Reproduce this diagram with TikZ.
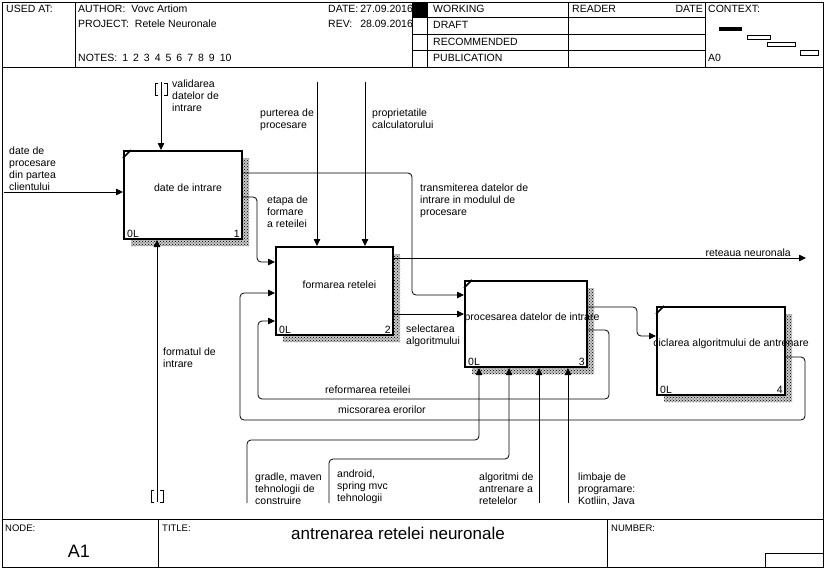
\documentclass[tikz,border=0pt]{standalone}
\usepackage{fontspec}
\setmainfont{Liberation Sans}
\usetikzlibrary{arrows.meta,patterns}
\begin{document}
\begin{tikzpicture}[x=1pt,y=-1pt,
  txt/.style={font=\fontsize{10.5}{12}\selectfont, inner sep=0pt, align=left, anchor=north west},
  hdr/.style={font=\fontsize{10.5}{12}\selectfont, inner sep=0pt, anchor=west},
  blbl/.style={font=\fontsize{10.5}{12}\selectfont, inner sep=0pt},
  fbox/.style={draw, line width=2pt, fill=white, inner sep=0pt},
  shd/.style={preaction={fill=black!22}, pattern=crosshatch dots, pattern color=black, draw=none, inner sep=0pt},
  arr/.style={line width=0.8pt, rounded corners=4pt, -{Triangle[length=7pt,width=6.5pt]}},
  ln/.style={line width=0.8pt},
  frm/.style={line width=0.8pt},
  crn/.style={line width=1.6pt}]
\useasboundingbox (0,0) rectangle (825,570);

% ---------- frame ----------
\draw[frm] (2,2) rectangle (823,567);
\draw[frm] (2,67) -- (823,67);
\draw[frm] (2,519) -- (823,519);
\draw[frm] (75,2) -- (75,67);
\draw[frm] (412,2) -- (412,67) (427,2) -- (427,67) (568,2) -- (568,67) (705,2) -- (705,67);
\draw[frm] (412,17) -- (705,17) (412,34) -- (705,34) (412,50) -- (705,50);
\fill (412,2) rectangle (427,17);
\draw[frm] (158,519) -- (158,567) (607,519) -- (607,567);
\draw[frm] (765,567) -- (765,553) -- (823,553);
% context mini boxes
\fill (719,27) rectangle (742,31);
\draw[ln] (747,35) rectangle (770,39);
\draw[ln] (767,42) rectangle (795,46);
\draw[ln] (800,50) rectangle (818,55);

% ---------- header text ----------
\node[hdr] (usedat) at (6,9) {USED AT:};
\node[hdr] (author) at (78,9) {AUTHOR:\hspace{6pt}Vovc Artiom};
\node[hdr] (project) at (78,24) {PROJECT:\hspace{6pt}Retele Neuronale};
\node[hdr] (notes) at (78,58) {NOTES:\hspace{5pt}1\hspace{5pt}2\hspace{5pt}3\hspace{5pt}4\hspace{5pt}5\hspace{5pt}6\hspace{5pt}7\hspace{5pt}8\hspace{5pt}9\hspace{5pt}10};
\node[hdr] (date) at (328,9) {DATE:\hspace{2pt}27.09.2016};
\node[hdr] (rev) at (328,24) {REV:\hspace{8pt}28.09.2016};
\node[hdr] (working) at (433,9) {WORKING};
\node[hdr] (draft) at (433,25) {DRAFT};
\node[hdr] (recom) at (433,42) {RECOMMENDED};
\node[hdr] (publ) at (433,58) {PUBLICATION};
\node[hdr] (reader) at (572,9) {READER};
\node[hdr, anchor=east] (rdate) at (703,9) {DATE};
\node[hdr] (context) at (708,9) {CONTEXT:};
\node[hdr] (a0) at (708,58) {A0};

% ---------- footer text ----------
\node[hdr, font=\fontsize{9.5}{11}\selectfont] (nodelbl) at (5,528) {NODE:};
\node[hdr, font=\fontsize{9.5}{11}\selectfont] (titlelbl) at (162,528) {TITLE:};
\node[hdr, font=\fontsize{9.5}{11}\selectfont] (numlbl) at (611,528) {NUMBER:};
\node[inner sep=0pt, font=\fontsize{18}{20}\selectfont] (a1) at (79,551) {A1};
\node[inner sep=0pt, font=\fontsize{17}{20}\selectfont] (title) at (398,533) {antrenarea retelei neuronale};

% ---------- shadows ----------
\node[shd, minimum width=118pt, minimum height=88pt] (s1) at (190,202) {};
\node[shd, minimum width=117pt, minimum height=88pt] (s2) at (341.5,298) {};
\node[shd, minimum width=122pt, minimum height=86pt] (s3) at (533,331) {};
\node[shd, minimum width=128pt, minimum height=88pt] (s4) at (728,358) {};

% ---------- boxes ----------
\node[fbox, minimum width=118pt, minimum height=88pt] (b1) at (183,195) {};
\node[fbox, minimum width=117pt, minimum height=88pt] (b2) at (334.5,291) {};
\node[fbox, minimum width=122pt, minimum height=86pt] (b3) at (526,324) {};
\node[fbox, minimum width=128pt, minimum height=88pt] (b4) at (721,351) {};

\node[blbl] (t1) at (188,188) {date de intrare};
\node[blbl] (t2) at (339.5,285) {formarea retelei};
\node[blbl] (t3) at (532,318) {procesarea datelor de intrare};
\node[blbl] (t4) at (731,344) {ciclarea algoritmului de antrenare};

\foreach \b/\n in {b1/1,b2/2,b3/3,b4/4}{
  \node[blbl, anchor=base west] (\b ol) at ([xshift=4pt,yshift=3pt]\b.south west) {0L};
  \node[blbl, anchor=base east] (\b nr) at ([xshift=-3pt,yshift=3pt]\b.south east) {\n};
}
\foreach \b in {b1,b3,b4}{
  \draw[crn] ([yshift=-8pt]\b.north west) -- ([xshift=8pt]\b.north west);
}

% ---------- arrows ----------
\coordinate (in1) at (4,192);
\draw[arr] (in1) -- (b1.west |- in1);

\coordinate (c1) at (161,82);
\draw[arr] (c1) -- (c1 |- b1.north);
\draw[ln] (158,83) -- (155,83) -- (155,95) -- (158,95);
\draw[ln] (164,83) -- (167,83) -- (167,95) -- (164,95);

\coordinate (m1) at (157,502);
\draw[arr] (m1) -- (m1 |- b1.south);
\draw[ln] (154,490) -- (151,490) -- (151,502) -- (154,502);
\draw[ln] (160,490) -- (163,490) -- (163,502) -- (160,502);

\draw[arr] (b1.east |- 0,173) -- (412,173) -- (412,295) -- (b3.west |- 0,295);
\draw[arr] (b1.east |- 0,197) -- (257,197) -- (257,262) -- (b2.west |- 0,262);

\coordinate (c2) at (317,82);
\draw[arr] (c2) -- (c2 |- b2.north);
\coordinate (c3) at (365,82);
\draw[arr] (c3) -- (c3 |- b2.north);

\coordinate (o1) at (806,258);
\draw[arr] (b2.east |- o1) -- (o1);
\draw[arr] (b2.east |- 0,314) -- (b3.west |- 0,314);

\draw[arr] (b3.east |- 0,307) -- (637,307) -- (637,336) -- (b4.west |- 0,336);

\draw[arr] (b3.east |- 0,330) -- (609,330) -- (609,399) -- (258,399) -- (258,321) -- (b2.west |- 0,321);
\draw[arr] (b4.east |- 0,357) -- (805,357) -- (805,420) -- (240,420) -- (240,293) -- (b2.west |- 0,293);

\coordinate (m2) at (247,503);
\draw[arr] (m2) -- (247,440) -- (479,440) -- (b3.south -| 479,0);
\coordinate (m3) at (329,503);
\draw[arr] (m3) -- (329,459) -- (509,459) -- (b3.south -| 509,0);
\coordinate (m4) at (539,503);
\draw[arr] (m4) -- (m4 |- b3.south);
\coordinate (m5) at (568,503);
\draw[arr] (m5) -- (m5 |- b3.south);

% ---------- labels ----------
\node[txt] (l1) at (9,147) {date de\\procesare\\din partea\\clientului};
\node[txt] (l2) at (172,80) {validarea\\datelor de\\intrare};
\node[txt] (l3) at (163,348) {formatul de\\intrare};
\node[txt] (l4) at (260,109) {purterea de\\procesare};
\node[txt] (l5) at (372,109) {proprietatile\\calculatorului};
\node[txt] (l6) at (267,196) {etapa de\\formare\\a reteilei};
\node[txt] (l7) at (420,184) {transmiterea datelor de\\intrare in modulul de\\procesare};
\node[blbl, anchor=east] (l8) at (791,253) {reteaua neuronala};
\node[txt] (l9) at (406,325) {selectarea\\algoritmului};
\node[blbl, anchor=west] (l10) at (325,390) {reformarea reteilei};
\node[blbl, anchor=west] (l11) at (338,410) {micsorarea erorilor};
\node[txt] (l12) at (255,473) {gradle, maven\\tehnologii de\\construire};
\node[txt] (l13) at (337,470) {android,\\spring mvc\\tehnologii};
\node[txt] (l14) at (479,473) {algoritmi de\\antrenare a\\retelelor};
\node[txt] (l15) at (578,473) {limbaje de\\programare:\\Kotliin, Java};
\end{tikzpicture}
\end{document}
